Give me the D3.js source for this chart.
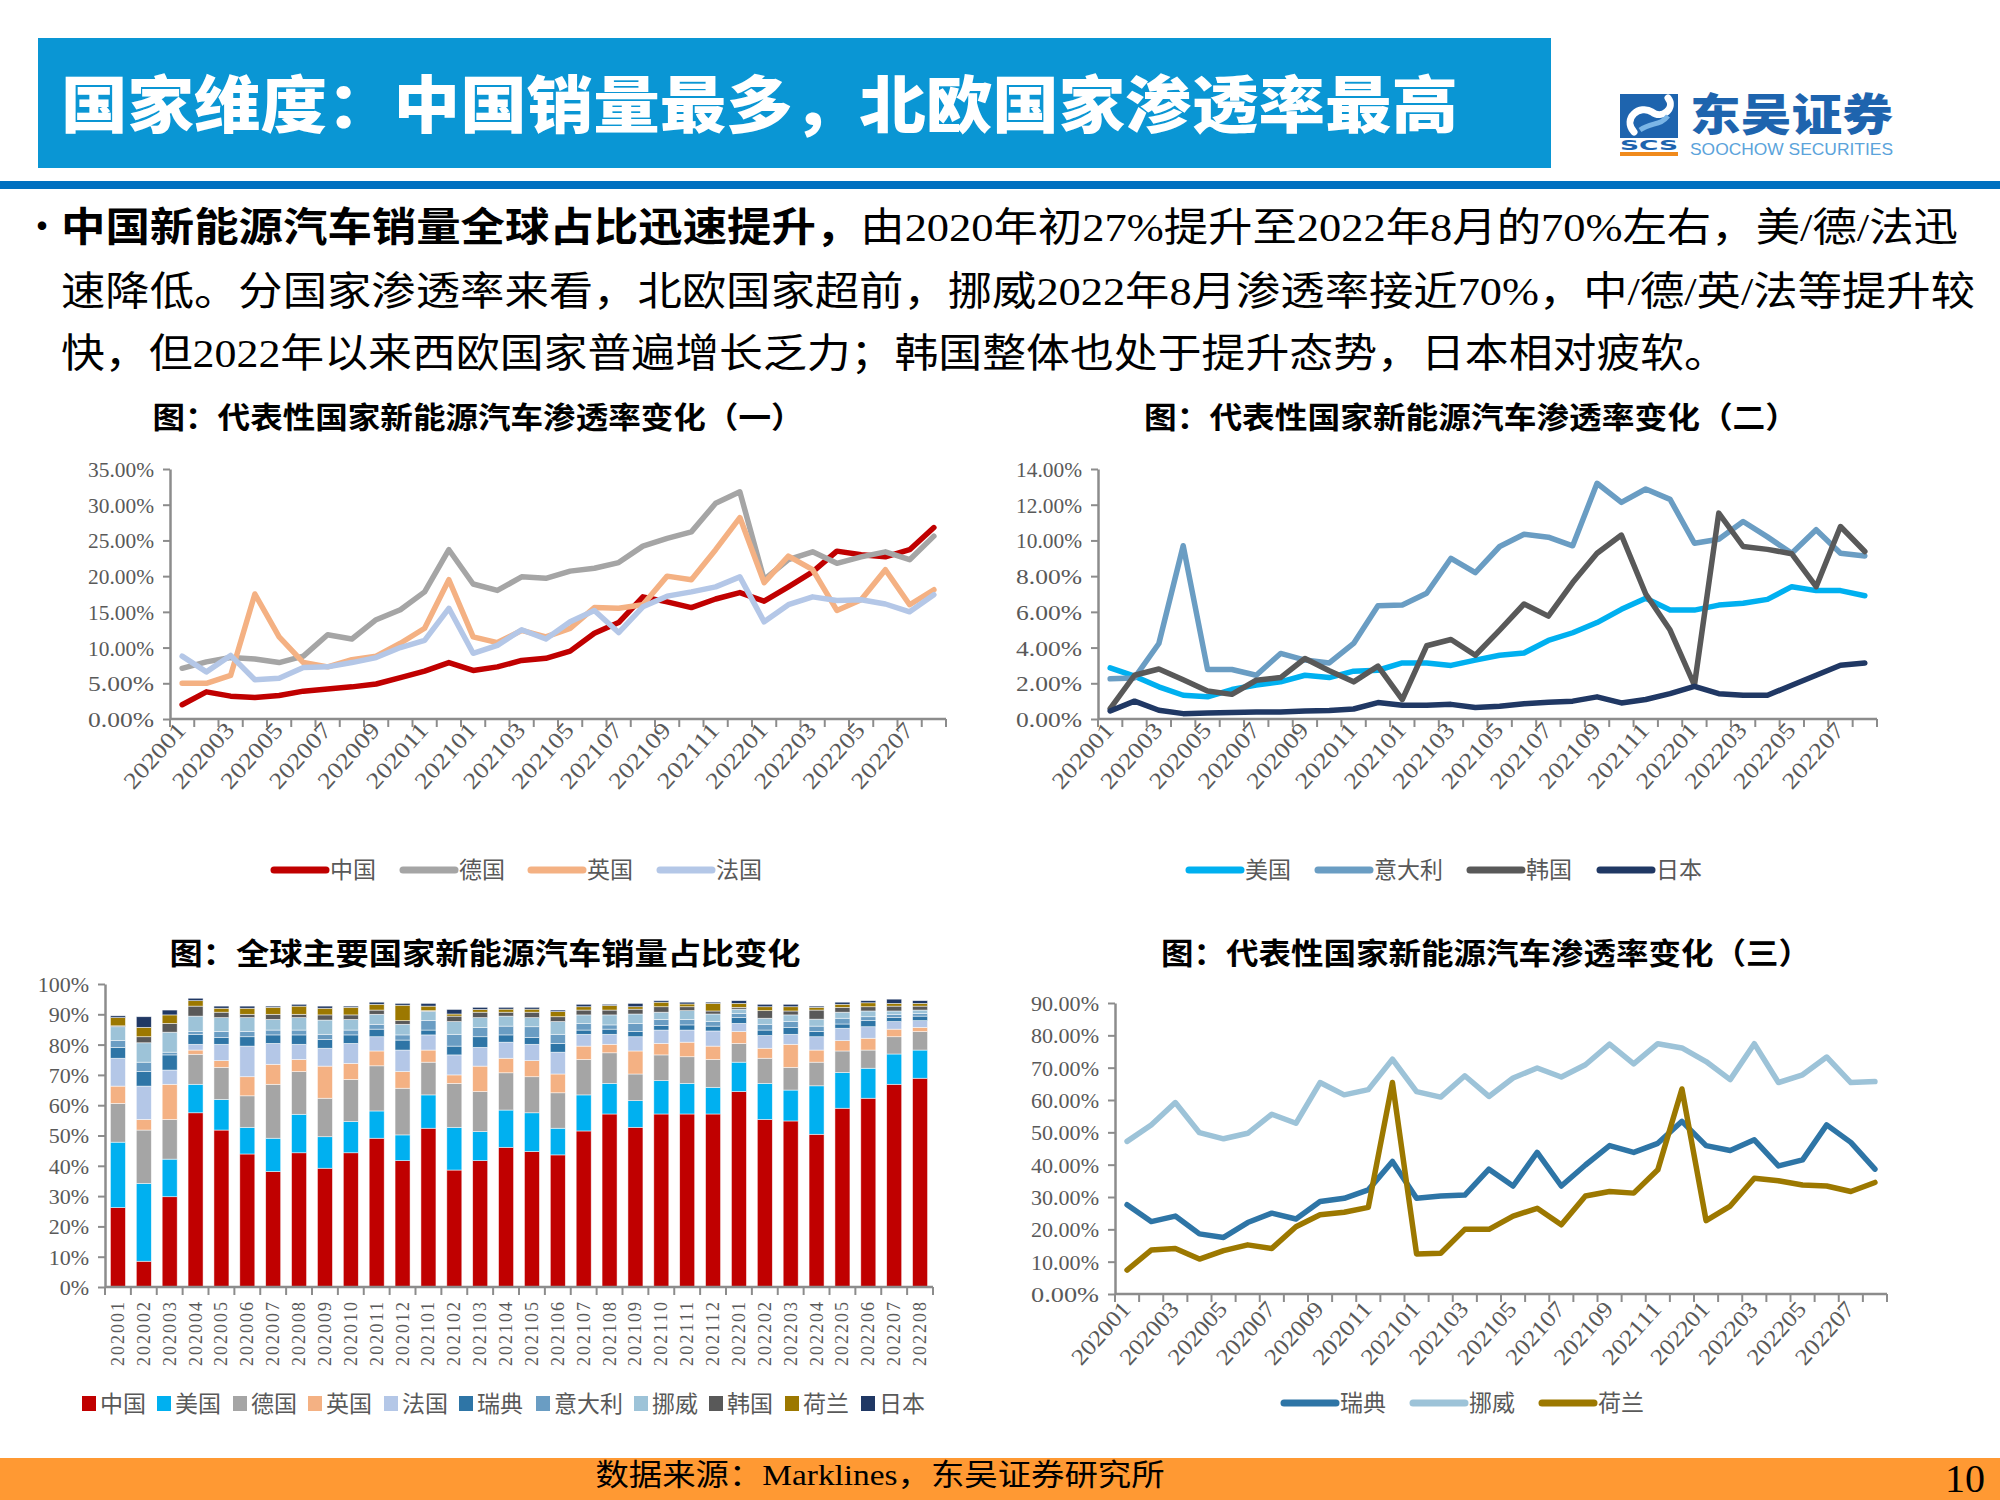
<!DOCTYPE html>
<html><head><meta charset="utf-8">
<script src="https://cdn.jsdelivr.net/npm/d3@7"></script>
<style>body{margin:0;background:#fff}svg{display:block}</style>
</head><body>
<svg id="s" width="2000" height="1500"></svg>
<script>
// ---------- DATA ----------
const months = ["202001","202002","202003","202004","202005","202006","202007","202008","202009","202010","202011","202012",
"202101","202102","202103","202104","202105","202106","202107","202108","202109","202110","202111","202112",
"202201","202202","202203","202204","202205","202206","202207","202208"];

// chart 1 penetration (%)
const pen1China   = [2.0,3.8,3.2,3.0,3.3,3.9,4.2,4.5,4.9,5.8,6.7,7.9,6.8,7.3,8.2,8.5,9.5,12.0,13.5,17.1,16.4,15.6,16.8,17.7,16.5,18.5,20.6,23.5,23.0,22.7,23.7,26.8];
const pen1Germany = [7.1,8.0,8.6,8.4,7.9,8.8,11.8,11.2,13.9,15.3,17.8,23.7,18.9,18.0,19.9,19.7,20.7,21.1,21.9,24.2,25.3,26.2,30.2,31.8,19.5,22.3,23.4,21.8,22.7,23.4,22.3,25.6];
const pen1UK      = [5.0,5.0,6.1,17.5,11.5,7.9,7.3,8.3,8.8,10.6,12.7,19.5,11.5,10.7,12.4,11.5,12.7,15.6,15.5,16.0,20.0,19.5,23.7,28.2,19.1,22.8,20.9,15.2,16.7,20.9,16.0,18.1];
const pen1France  = [8.8,6.6,8.9,5.5,5.7,7.2,7.3,7.9,8.6,10.0,11.0,15.5,9.2,10.3,12.5,11.2,13.6,15.2,12.1,15.7,17.2,17.8,18.5,19.9,13.6,16.0,17.1,16.6,16.7,16.1,15.0,17.4];

// chart 2 penetration (%)
const pen2US    = [2.86,2.4,1.8,1.33,1.24,1.65,1.9,2.08,2.45,2.32,2.68,2.73,3.14,3.14,3.0,3.3,3.57,3.7,4.4,4.83,5.4,6.14,6.76,6.1,6.1,6.38,6.48,6.7,7.41,7.19,7.19,6.9];
const pen2Italy = [2.25,2.3,4.23,9.7,2.77,2.77,2.45,3.67,3.3,3.14,4.23,6.34,6.38,7.04,9.0,8.2,9.66,10.35,10.18,9.7,13.2,12.13,12.88,12.3,9.84,10.07,11.06,10.2,9.28,10.6,9.28,9.13];
const pen2Korea = [0.58,2.45,2.8,2.2,1.57,1.38,2.17,2.32,3.39,2.7,2.08,2.96,1.09,4.1,4.45,3.57,4.98,6.44,5.76,7.64,9.28,10.3,7.0,4.98,1.89,11.53,9.66,9.5,9.25,7.41,10.78,9.38];
const pen2Japan = [0.45,1.0,0.49,0.3,0.34,0.37,0.39,0.39,0.45,0.47,0.56,0.92,0.77,0.77,0.82,0.64,0.71,0.86,0.94,1.0,1.24,0.9,1.09,1.42,1.83,1.42,1.33,1.33,1.89,2.45,3.01,3.14];

// chart 4 penetration (%)
const pen3Sweden  = [27.6,22.4,24.1,18.6,17.5,22.1,25.0,23.2,28.6,29.6,32.2,41.0,29.6,30.3,30.6,38.6,33.4,43.8,33.4,39.9,45.9,43.8,46.6,53.4,45.9,44.4,47.7,39.6,41.5,52.3,46.9,38.6];
const pen3Norway  = [47.2,52.3,59.2,49.9,48.0,49.7,55.6,52.8,65.4,61.6,63.2,72.6,62.6,60.9,67.5,61.1,66.8,69.9,67.1,70.9,77.3,71.2,77.4,76.1,71.9,66.3,77.4,65.4,67.8,73.3,65.4,65.7];
const pen3Neth    = [7.4,13.6,14.1,10.8,13.4,15.2,14.1,20.8,24.5,25.3,26.8,65.4,12.4,12.6,20.0,20.0,24.1,26.5,21.4,30.3,31.7,31.2,38.4,63.4,22.7,27.2,35.8,35.0,33.7,33.4,31.7,34.5];

// chart 3 global sales share (%)
const shareKeys = ["中国","美国","德国","英国","法国","瑞典","意大利","挪威","韩国","荷兰","日本"];
const shareCN = [26.2,8.5,29.8,57.5,51.8,43.9,38.1,44.3,39.2,44.3,49.1,41.7,52.4,38.6,41.7,46.1,44.7,43.6,51.5,57.1,52.7,57.1,57.1,57.1,64.5,55.3,54.8,50.4,59.0,62.3,66.9,68.9];
const shareUS = [21.6,25.7,12.4,9.4,10.1,8.8,11.0,12.7,10.4,10.3,9.0,8.5,11.0,14.1,9.6,12.3,12.8,8.8,11.9,10.1,8.8,11.0,10.1,8.8,9.7,11.9,10.2,16.0,11.8,9.9,10.0,9.3];
const shareDE = [12.8,17.6,13.1,9.9,10.6,10.4,17.8,14.1,12.7,13.9,14.9,15.4,10.8,14.5,13.2,12.3,11.9,11.7,11.7,10.1,8.8,8.5,8.8,9.2,6.2,8.3,7.5,7.8,7.1,6.0,5.7,6.1];
const shareUK = [5.7,3.5,11.6,1.4,2.2,6.3,6.6,4.0,10.6,5.3,4.9,5.5,4.0,2.8,8.4,4.8,5.3,6.2,4.4,2.8,7.6,3.8,4.8,4.4,3.9,3.3,7.6,4.0,3.4,3.9,2.5,1.4];
const shareFR = [9.2,11.0,4.7,1.9,5.4,10.1,6.9,5.0,5.9,6.6,4.7,7.1,5.0,6.6,6.2,5.3,5.4,7.2,3.9,3.3,4.7,4.4,4.0,5.0,2.7,4.2,3.3,4.4,4.1,3.8,2.5,2.2];
const shareSE = [3.6,4.8,5.0,3.3,2.2,3.1,2.8,3.1,2.9,2.8,2.5,3.3,1.6,2.9,3.5,2.4,2.2,2.9,1.4,1.7,1.7,1.5,1.7,1.6,1.9,1.8,2.2,1.7,1.4,2.0,1.3,1.5];
const shareIT = [2.2,3.1,0.9,0.9,2.0,1.7,1.6,1.6,1.7,1.6,1.6,1.7,3.1,3.9,3.1,2.9,3.6,3.0,2.2,1.4,2.7,2.0,1.8,1.5,1.4,1.9,2.0,1.8,1.9,1.3,1.1,0.9];
const shareNO = [4.6,6.4,6.6,5.1,4.6,4.6,3.5,4.1,4.7,3.5,3.3,3.5,3.1,4.2,3.2,3.3,3.0,4.2,2.8,3.3,3.1,2.4,2.9,2.5,1.4,2.0,2.2,2.3,2.0,1.9,1.1,1.1];
const shareKR = [0.3,2.0,2.9,3.3,1.8,1.1,1.7,1.1,1.7,1.5,1.4,1.2,0.2,1.8,1.8,1.3,1.8,1.6,1.6,1.6,1.6,1.8,1.3,1.0,0.6,2.5,1.3,3.0,1.6,1.4,1.6,1.3];
const shareNL = [2.7,3.1,2.8,1.8,1.3,2.0,2.3,2.7,2.2,2.5,1.9,5.1,1.5,0.7,0.9,1.0,1.0,1.7,1.1,1.5,0.8,1.5,0.9,2.5,1.3,1.3,1.4,0.9,1.0,1.3,0.9,0.9];
const shareJP = [0.6,3.5,1.6,0.8,0.7,0.7,0.4,0.6,0.7,0.4,0.7,0.6,0.9,1.5,0.7,0.6,0.6,0.5,0.8,0.4,1.1,0.5,0.6,0.4,0.9,0.8,0.8,0.4,0.7,0.7,1.4,0.9];

const ticks1 = [0,5,10,15,20,25,30,35];
const ticks2 = [0,2,4,6,8,10,12,14];
const ticks3 = [0,10,20,30,40,50,60,70,80,90,100];
const ticks4 = [0,10,20,30,40,50,60,70,80,90];

// ---------- STYLE ----------
const SERIF = '"Liberation Serif","Times New Roman",serif';
const CJK = '"Noto Sans CJK SC","Noto Sans",sans-serif';
const AXIS = '#8c8c8c', LBL = '#595959';
const colors = {"中国":"#C00000","美国":"#00B0F0","德国":"#A5A5A5","英国":"#F4B183","法国":"#B4C7E7",
  "瑞典":"#2E75A6","意大利":"#6A9DC3","挪威":"#9DC3D8","韩国":"#595959","荷兰":"#9C7800","日本":"#203864"};

const svg = d3.select('#s');

// mixed text: latin/digits in serif, the rest in CJK sans
function rich(sel, str, weight){
  str.split(/([0-9%\/.A-Za-z]+)/).forEach((seg,i)=>{
    if(!seg) return;
    const t = sel.append('tspan').attr('font-family', i%2 ? SERIF : CJK).text(seg);
    if(weight) t.attr('font-weight',weight);
  });
}

// ---------- HEADER ----------
svg.append('rect').attr('x',38).attr('y',38).attr('width',1513).attr('height',130).attr('fill','#0A96D4');
svg.append('text').attr('x',61).attr('y',128).attr('font-family',CJK).attr('font-weight',900)
  .attr('font-size',62).attr('fill','#fff').attr('textLength',1397).attr('lengthAdjust','spacingAndGlyphs')
  .text('国家维度：中国销量最多，北欧国家渗透率最高');
svg.append('rect').attr('x',0).attr('y',181).attr('width',2000).attr('height',8).attr('fill','#0070C0');

// logo
const lg = svg.append('g');
lg.append('rect').attr('x',1620).attr('y',94).attr('width',58).attr('height',44).attr('fill','#1E64AE');
lg.append('path').attr('d','M1634,132 C1622,118 1640,104 1652,112 C1662,120 1676,108 1668,98')
  .attr('fill','none').attr('stroke','#fff').attr('stroke-width',7).attr('stroke-linecap','round');
lg.append('path').attr('d','M1640,130 C1652,122 1660,126 1668,116').attr('fill','none').attr('stroke','#7BB6E6').attr('stroke-width',5);
lg.append('text').attr('x',1620).attr('y',150).attr('font-family','"DejaVu Sans",sans-serif').attr('font-weight','bold')
  .attr('font-size',14).attr('fill','#1E64AE').attr('textLength',58).attr('lengthAdjust','spacingAndGlyphs').text('SCS');
lg.append('rect').attr('x',1620).attr('y',152).attr('width',58).attr('height',4).attr('fill','#F08A1C');
lg.append('text').attr('x',1690).attr('y',131).attr('font-family',CJK).attr('font-weight',900).attr('font-size',44)
  .attr('fill','#1E64AE').attr('textLength',203).attr('lengthAdjust','spacingAndGlyphs').text('东吴证券');
lg.append('text').attr('x',1690).attr('y',155).attr('font-family','"Liberation Sans",Arial,sans-serif').attr('font-size',16)
  .attr('fill','#5BA3DB').attr('textLength',203).attr('lengthAdjust','spacingAndGlyphs').text('SOOCHOW SECURITIES');

// bullet text
svg.append('text').attr('x',22).attr('y',241).attr('font-family',CJK).attr('font-size',40).attr('fill','#000').text('•');
const t1 = svg.append('text').attr('x',61).attr('y',241).attr('font-size',40).attr('fill','#000')
  .attr('textLength',1897).attr('lengthAdjust','spacingAndGlyphs');
rich(t1,'中国新能源汽车销量全球占比迅速提升，','bold');
rich(t1,'由2020年初27%提升至2022年8月的70%左右，美/德/法迅');
const t2 = svg.append('text').attr('x',61).attr('y',305).attr('font-size',40).attr('fill','#000')
  .attr('textLength',1914).attr('lengthAdjust','spacingAndGlyphs');
rich(t2,'速降低。分国家渗透率来看，北欧国家超前，挪威2022年8月渗透率接近70%，中/德/英/法等提升较');
const t3 = svg.append('text').attr('x',61).attr('y',367).attr('font-size',40).attr('fill','#000')
  .attr('textLength',1667).attr('lengthAdjust','spacingAndGlyphs');
rich(t3,'快，但2022年以来西欧国家普遍增长乏力；韩国整体也处于提升态势，日本相对疲软。');

// chart titles
function title(txt, cx, cy, len){
  svg.append('text').attr('x',cx).attr('y',cy+10).attr('text-anchor','middle').attr('font-family',CJK)
    .attr('font-weight','bold').attr('font-size',30).attr('fill','#000').attr('textLength',len)
    .attr('lengthAdjust','spacingAndGlyphs').text(txt);
}
title('图：代表性国家新能源汽车渗透率变化（一）',478,418,651);
title('图：代表性国家新能源汽车渗透率变化（二）',1471,418,654);
title('图：全球主要国家新能源汽车销量占比变化',485,954,631);
title('图：代表性国家新能源汽车渗透率变化（三）',1486,954,650);

// ---------- LINE CHART ----------
function lineChart(o){
  const g = svg.append('g');
  const x = d3.scaleBand().domain(months).range([o.x0,o.x1]);
  const y = d3.scaleLinear().domain([0,o.max]).range([o.yB,o.yT]);
  const ya = d3.axisLeft(y).tickValues(o.ticks).tickFormat(d=>d3.format('.2f')(d)+'%').tickSize(7).tickSizeOuter(0).tickPadding(9);
  const yg = g.append('g').attr('transform',`translate(${o.x0},0)`).call(ya);
  yg.select('.domain').attr('stroke',AXIS).attr('stroke-width',2.5);
  yg.selectAll('.tick line').attr('stroke',AXIS).attr('stroke-width',2);
  yg.selectAll('.tick text').attr('font-family',SERIF).attr('font-size',22).attr('fill',LBL).attr('dy','0.34em')
    .attr('textLength',o.tl).attr('lengthAdjust','spacingAndGlyphs');
  g.append('line').attr('x1',o.x0).attr('x2',o.x1).attr('y1',o.yB).attr('y2',o.yB).attr('stroke',AXIS).attr('stroke-width',2.5);
  g.selectAll('.bt').data(d3.range(months.length+1)).join('line')
    .attr('x1',i=>o.x0+i*x.step()).attr('x2',i=>o.x0+i*x.step()).attr('y1',o.yB).attr('y2',o.yB+8)
    .attr('stroke',AXIS).attr('stroke-width',2);
  g.selectAll('.xl').data(months.filter((m,i)=>i%2===0)).join('text')
    .attr('transform',m=>`translate(${x(m)+x.bandwidth()/2+5},${o.yB+o.lo}) rotate(-48)`)
    .attr('text-anchor','end').attr('font-family',SERIF).attr('font-size',23).attr('fill',LBL)
    .attr('textLength',o.ll).attr('lengthAdjust','spacingAndGlyphs').text(m=>m);
  const line = d3.line().x((d,i)=>x(months[i])+x.bandwidth()/2).y(d=>y(d));
  o.series.forEach(s=>{
    g.append('path').datum(s.values).attr('d',line).attr('fill','none').attr('stroke',colors[s.name])
      .attr('stroke-width',5.5).attr('stroke-linejoin','round').attr('stroke-linecap','round');
  });
  o.series.forEach((s,k)=>{
    const lx = o.legend[k];
    g.append('line').attr('x1',lx+3).attr('x2',lx+55).attr('y1',o.ly).attr('y2',o.ly).attr('stroke',colors[s.name])
      .attr('stroke-width',7).attr('stroke-linecap','round');
    g.append('text').attr('x',lx+59).attr('y',o.ly+8).attr('font-family',CJK).attr('font-size',23).attr('fill',LBL).text(s.name);
  });
}

lineChart({x0:170,x1:946,yT:469,yB:719,max:35,ticks:ticks1,tl:66,lo:12,ll:80,ly:870,
  legend:[271,400,528,657],
  series:[{name:'中国',values:pen1China},{name:'德国',values:pen1Germany},{name:'英国',values:pen1UK},{name:'法国',values:pen1France}]});
lineChart({x0:1098,x1:1877,yT:469,yB:719,max:14,ticks:ticks2,tl:66,lo:12,ll:80,ly:870,
  legend:[1186,1315,1467,1597],
  series:[{name:'美国',values:pen2US},{name:'意大利',values:pen2Italy},{name:'韩国',values:pen2Korea},{name:'日本',values:pen2Japan}]});
lineChart({x0:1115,x1:1887,yT:1003,yB:1294,max:90,ticks:ticks4,tl:68,lo:16,ll:76,ly:1403,
  legend:[1281,1410,1539],
  series:[{name:'瑞典',values:pen3Sweden},{name:'挪威',values:pen3Norway},{name:'荷兰',values:pen3Neth}]});

// ---------- STACKED BAR CHART ----------
(function(){
  const g = svg.append('g');
  const x0=105, x1=933, yT=984, yB=1287;
  const shares = [shareCN,shareUS,shareDE,shareUK,shareFR,shareSE,shareIT,shareNO,shareKR,shareNL,shareJP];
  const rows = months.map((m,i)=>{const r={month:m}; shareKeys.forEach((k,j)=>r[k]=shares[j][i]); return r;});
  const stack = d3.stack().keys(shareKeys)(rows);
  const x = d3.scaleBand().domain(months).range([x0,x1]).paddingInner(0.42).paddingOuter(0.21);
  const y = d3.scaleLinear().domain([0,100]).range([yB,yT]);
  stack.forEach(layer=>{
    g.append('g').selectAll('rect').data(layer).join('rect')
      .attr('x',d=>x(d.data.month)).attr('width',x.bandwidth())
      .attr('y',d=>y(d[1])).attr('height',d=>Math.max(0,y(d[0])-y(d[1])))
      .attr('fill',colors[layer.key]).attr('stroke','#ffffff').attr('stroke-width',0.7).attr('stroke-opacity',0.7);
  });
  const ya = d3.axisLeft(y).tickValues(ticks3).tickFormat(d=>d+'%').tickSize(7).tickSizeOuter(0).tickPadding(9);
  const yg = g.append('g').attr('transform',`translate(${x0},0)`).call(ya);
  yg.select('.domain').attr('stroke',AXIS).attr('stroke-width',2.5);
  yg.selectAll('.tick line').attr('stroke',AXIS).attr('stroke-width',2);
  yg.selectAll('.tick text').attr('font-family',SERIF).attr('font-size',22).attr('fill',LBL).attr('dy','0.34em');
  g.append('line').attr('x1',x0).attr('x2',x1).attr('y1',yB).attr('y2',yB).attr('stroke',AXIS).attr('stroke-width',2.5);
  const step = (x1-x0)/months.length;
  g.selectAll('.bt').data(d3.range(months.length+1)).join('line')
    .attr('x1',i=>x0+i*step).attr('x2',i=>x0+i*step).attr('y1',yB).attr('y2',yB+8).attr('stroke',AXIS).attr('stroke-width',2);
  g.selectAll('.xl').data(months).join('text')
    .attr('transform',m=>`translate(${x(m)+x.bandwidth()/2+6},${yB+15}) rotate(-90)`)
    .attr('text-anchor','end').attr('font-family',SERIF).attr('font-size',18).attr('fill',LBL)
    .attr('textLength',64).attr('lengthAdjust','spacing').text(m=>m);
  const lx = [82,157,233,308,384,459,536,634,709,785,861];
  shareKeys.forEach((k,i)=>{
    g.append('rect').attr('x',lx[i]).attr('y',1396).attr('width',14).attr('height',15).attr('fill',colors[k]);
    g.append('text').attr('x',lx[i]+18).attr('y',1412).attr('font-family',CJK).attr('font-size',23).attr('fill',LBL).text(k);
  });
})();

// ---------- FOOTER ----------
svg.append('rect').attr('x',0).attr('y',1458).attr('width',2000).attr('height',42).attr('fill','#FF9933');
const ft = svg.append('text').attr('x',880).attr('y',1485).attr('text-anchor','middle').attr('font-size',30)
  .attr('fill','#000').attr('textLength',569).attr('lengthAdjust','spacingAndGlyphs');
rich(ft,'数据来源：Marklines，东吴证券研究所');
svg.append('text').attr('x',1985).attr('y',1492).attr('text-anchor','end').attr('font-family',SERIF).attr('font-size',40)
  .attr('fill','#000').text('10');
</script>
</body></html>
